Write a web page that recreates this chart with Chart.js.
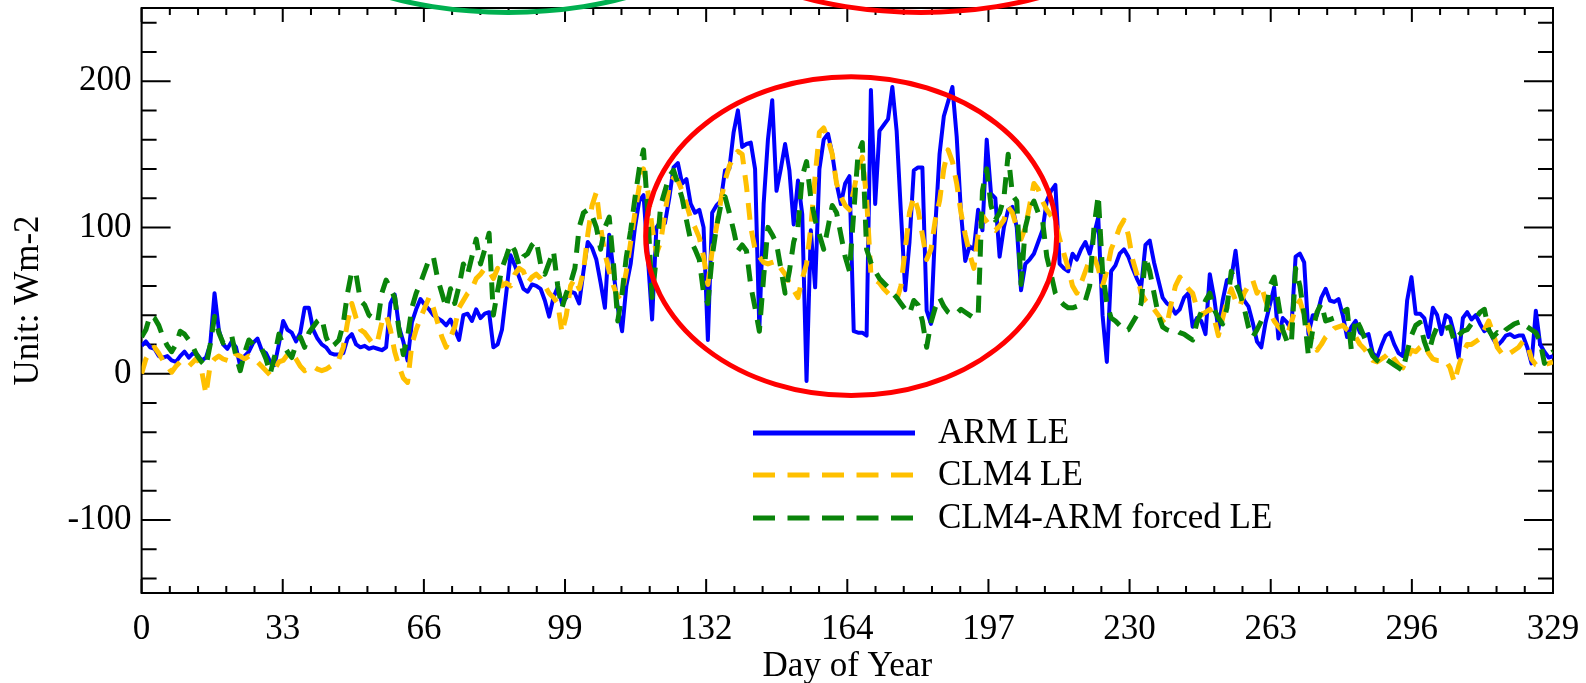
<!DOCTYPE html>
<html>
<head>
<meta charset="utf-8">
<title>Latent heat flux</title>
<script src="https://cdn.jsdelivr.net/npm/chart.js@4.4.1/dist/chart.umd.min.js"></script>
<style>
  html, body { margin: 0; padding: 0; background: #fff; }
  #wrap { width: 1586px; height: 683px; }
</style>
</head>
<body>
<div id="wrap"><canvas id="le-chart" width="1586" height="683"></canvas></div>
<script>
const X_MAX = 329;
const X_TICK_LABELS = ['0', '33', '66', '99', '132', '164', '197', '230', '263', '296', '329'];
const Y_TICKS = [-100, 0, 100, 200];
const SERIES_NAMES = ['ARM LE', 'CLM4 LE', 'CLM4-ARM forced LE'];

// daily LE, Wm-2, day 0..329
const ARM_LE = [
  19, 22, 18, 17, 12, 11, 12, 9, 8, 12,
  15, 11, 14, 13, 9, 11, 20, 55, 30, 20,
  17, 22, 18, 5, 12, 15, 21, 24, 16, 14,
  8, 6, 20, 36, 30, 28, 22, 28, 45, 45,
  30, 24, 20, 18, 14, 13, 13, 14, 24, 27,
  20, 18, 19, 17, 18, 17, 16, 18, 48, 54,
  32, 22, 9, 35, 44, 51, 47, 44, 40, 38,
  36, 33, 37, 30, 23, 40, 41, 36, 44, 38,
  41, 42, 18, 20, 30, 55, 81, 74, 66, 58,
  56, 61, 60, 58, 50, 39, 52, 59, 48, 52,
  56, 55, 48, 70, 90, 86, 78, 62, 45, 95,
  70, 45, 29, 60, 75, 100, 118, 122, 80, 37,
  100, 104, 103, 120, 141, 144, 130, 133, 116, 110,
  112, 100, 23, 110, 115, 118, 139, 140, 165, 180,
  155, 157, 158, 140, 30, 116, 160, 187, 125, 140,
  157, 139, 102, 132, 109, -5, 98, 59, 140, 160,
  164, 150, 130, 116, 130, 135, 29, 28, 28, 26,
  194, 116, 166, 170, 174, 196, 166, 110, 57, 90,
  139, 141, 141, 43, 34, 100, 150, 176, 186, 196,
  162, 110, 77, 87, 85, 112, 98, 160, 123, 120,
  80, 100, 112, 114, 100, 57, 75, 78, 82, 90,
  98, 118, 125, 129, 75, 72, 70, 82, 78, 85,
  90, 82, 95, 107, 40, 8, 70, 74, 82, 85,
  80, 72, 65, 59, 88, 91, 76, 64, 52, 48,
  46, 41, 44, 52, 55, 32, 38, 36, 27, 68,
  52, 30, 50, 64, 65, 84, 58, 50, 46, 35,
  22, 18, 35, 47, 59, 24, 38, 35, 30, 80,
  82, 76, 27, 40, 40, 52, 58, 50, 49, 51,
  40, 25, 32, 36, 28, 26, 27, 14, 11, 19,
  26, 28, 20, 14, 12, 50, 66, 41, 41, 38,
  25, 45, 40, 27, 40, 38, 27, 11, 38, 42,
  37, 40, 34, 29, 31, 24, 19, 22, 26, 27,
  25, 26, 26, 18, 7, 43, 20, 15, 11, 12
];

const CLM4_LE = [
  0, 10, 15, 18, 14, 9, 5, 1, 5, 8,
  7, 5, 8, 11, 2, -14, 6, 10, 12, 10,
  9, 8, 13, 12, 10, 12, 10, 8, 5, 2,
  -1, 3, 8, 9, 13, 14, 10, 5, 2, 4,
  5, 3, 2, 3, 5, 7, 10, 18, 35, 48,
  38, 30, 28, 24, 20, 22, 35, 40, 30, 15,
  5, -3, -6, 20, 30, 38, 45, 52, 45, 35,
  25, 18, 25, 32, 45, 50, 55, 58, 65, 68,
  72, 70, 65, 72, 60, 62, 60, 68, 72, 70,
  62, 66, 68, 65, 60, 55, 52, 48, 28, 40,
  60, 65, 58, 70, 95, 115, 124, 100, 82, 70,
  60, 52, 55, 70, 90, 110, 128, 140, 125, 100,
  82, 90, 110, 128, 134, 132, 125, 116, 106, 100,
  93, 80, 61, 84, 100, 118, 132, 142, 148, 152,
  150, 128, 100, 85, 80, 76, 75, 76, 77, 72,
  68, 62, 57, 52, 65, 75, 100, 135, 165, 168,
  160, 150, 130, 121, 115, 112, 125, 140, 148, 120,
  68, 64, 62, 58, 55, 52, 50, 60, 85, 110,
  121, 112, 95, 78, 85, 105, 118, 140, 153, 145,
  130, 110, 95, 82, 72, 95, 108, 104, 100, 98,
  101, 105, 114, 110, 100, 92, 100, 115, 130, 126,
  118, 112, 108, 104, 92, 82, 72, 60, 55, 62,
  70, 78, 80, 72, 60, 70, 85, 92, 100, 105,
  95, 78, 68, 55, 50, 47, 44, 40, 36, 33,
  48, 60, 66, 62, 58, 55, 45, 40, 42, 44,
  38, 26, 38, 50, 58, 50, 46, 55, 60, 64,
  55, 60, 50, 42, 36, 32, 29, 26, 35, 45,
  50, 40, 32, 22, 16, 20, 25, 28, 31, 32,
  33, 30, 28, 25, 20, 17, 13, 9, 8, 10,
  12, 15, 10, 6, 4, 10, 16, 15, 18, 20,
  14, 10, 9, 9, 9, 4, -6, 5, 14, 20,
  20, 22, 24, 30, 36, 28, 18, 14, 12, 14,
  16, 18, 22, 20, 10, 6, 5, 6, 7, 8
];

const CLM4_ARM_LE = [
  25, 30, 40, 38, 33, 25, 19, 15, 20, 29,
  27, 23, 18, 12, 8, 5, 20, 39, 28, 21,
  24, 26, 12, 2, 14, 23, 20, 17, 17, 10,
  0, 12, 27, 20, 15, 11, 20, 25, 18, 28,
  32, 36, 38, 25, 18, 20, 23, 34, 55, 70,
  68, 50, 47, 40, 38, 35, 55, 64, 58, 52,
  30, 13, 25, 45, 55, 62, 70, 78, 80, 65,
  55, 45, 58, 48, 60, 75, 68, 80, 92, 75,
  85, 96, 40, 57, 72, 80, 89, 84, 74, 80,
  82, 88, 91, 75, 68, 76, 84, 60, 45, 55,
  62, 72, 100, 110, 112, 108, 100, 85, 100, 107,
  75, 36, 55, 80, 98, 120, 140, 153, 110, 52,
  80, 115, 125, 135, 139, 130, 120, 105, 91, 85,
  78, 55, 48, 80, 100, 115, 121, 110, 98, 84,
  88, 84, 60, 45, 29, 66, 100, 95, 89, 72,
  55, 70, 90, 100, 135, 145, 120, 105, 95, 85,
  100, 115, 110, 95, 80, 70, 110, 150, 158, 85,
  76, 70, 65, 62, 59, 55, 52, 48, 44, 41,
  50, 47, 36, 18, 35, 45, 52, 46, 42, 40,
  41, 44, 42, 40, 38, 39, 125, 140, 115, 105,
  110, 120, 150, 122, 118, 61, 100, 112, 118, 110,
  105, 80, 68, 55, 50, 47, 45, 45, 46, 47,
  50, 60, 100, 122, 70, 48, 38, 36, 33, 29,
  30, 35, 40, 48, 80, 70, 55, 40, 32, 30,
  29, 30, 28, 27, 25, 23, 35, 42, 50, 55,
  44, 38, 34, 45, 70, 62, 55, 45, 32, 25,
  30, 36, 39, 60, 66, 48, 30, 22, 20, 72,
  60, 40, 12, 30, 42, 48, 36, 37, 38, 40,
  42, 44, 16, 38, 32, 25, 18, 12, 9, 7,
  10, 8, 6, 4, 2, 15, 26, 33, 35, 22,
  14, 25, 32, 30, 31, 32, 22, 26, 29, 30,
  34, 38, 42, 44, 30, 25, 28, 26, 30, 32,
  34, 35, 36, 32, 30, 28, 22, 7, 13, 15
];

// highlight rings: centre (day, Wm-2) and half axes (days, Wm-2)
const RING_DAY = [85.4, 181.7, 165.4];
const RING_LE = [303, 303, 94];
const RING_HALF_DAYS = [47.8, 47.8, 47.9];
const RING_HALF_LE = [56, 56, 109];

(function () {
  const FONT = "'Liberation Serif', 'Times New Roman', serif";
  const RING_COLORS = ['#00b050', '#ff0000', '#ff0000'];

  const points = arr => arr.map((v, i) => ({ x: i, y: v }));

  // inward ticks on all four sides plus the box
  const frame = {
    id: 'frame',
    beforeDatasetsDraw(chart) {
      const { ctx, chartArea: a, scales: { x, y } } = chart;
      ctx.save();
      ctx.strokeStyle = '#000';
      ctx.lineWidth = 2;
      ctx.strokeRect(a.left, a.top, a.right - a.left, a.bottom - a.top);
      ctx.beginPath();
      for (let v = -140; v <= 240; v += 20) {
        const py = y.getPixelForValue(v);
        const len = v % 100 === 0 ? 29 : 15;
        ctx.moveTo(a.left, py); ctx.lineTo(a.left + len, py);
        ctx.moveTo(a.right, py); ctx.lineTo(a.right - len, py);
      }
      for (let i = 0; i <= 50; i++) {
        const px = x.getPixelForValue(i * X_MAX / 50);
        const len = i % 5 === 0 ? 14 : 7;
        ctx.moveTo(px, a.bottom); ctx.lineTo(px, a.bottom - len);
        ctx.moveTo(px, a.top); ctx.lineTo(px, a.top + len);
      }
      ctx.stroke();
      ctx.restore();
    }
  };

  const rings = {
    id: 'rings',
    afterDatasetsDraw(chart) {
      const { ctx, scales: { x, y } } = chart;
      ctx.save();
      ctx.lineWidth = 5;
      RING_DAY.forEach((d, i) => {
        const cx = x.getPixelForValue(d);
        const cy = y.getPixelForValue(RING_LE[i]);
        const rx = Math.abs(x.getPixelForValue(d + RING_HALF_DAYS[i]) - cx);
        const ry = Math.abs(y.getPixelForValue(RING_LE[i] + RING_HALF_LE[i]) - cy);
        ctx.strokeStyle = RING_COLORS[i];
        ctx.beginPath();
        ctx.ellipse(cx, cy, rx, ry, 0, 0, Math.PI * 2);
        ctx.stroke();
      });
      ctx.restore();
    }
  };

  const legendBox = {
    id: 'legendBox',
    afterDraw(chart) {
      const { ctx } = chart;
      const rows = [433, 475, 518];
      ctx.save();
      ctx.font = '35px ' + FONT;
      ctx.textBaseline = 'middle';
      chart.data.datasets.forEach((ds, i) => {
        ctx.strokeStyle = ds.borderColor;
        ctx.lineWidth = 5;
        ctx.setLineDash(ds.borderDash ? [22, 12.5] : []);
        ctx.beginPath();
        ctx.moveTo(753, rows[i]);
        ctx.lineTo(915, rows[i]);
        ctx.stroke();
        ctx.setLineDash([]);
        ctx.fillStyle = '#000';
        ctx.fillText(ds.label, 938, rows[i] + 1);
      });
      ctx.restore();
    }
  };

  const tickFont = { family: FONT, size: 35 };

  new Chart(document.getElementById('le-chart'), {
    type: 'line',
    data: {
      datasets: [
        { label: SERIES_NAMES[0], data: points(ARM_LE), borderColor: '#0000ff', borderWidth: 4, order: 3 },
        { label: SERIES_NAMES[1], data: points(CLM4_LE), borderColor: '#ffc000', borderWidth: 5, borderDash: [17, 11], order: 2 },
        { label: SERIES_NAMES[2], data: points(CLM4_ARM_LE), borderColor: '#0a840a', borderWidth: 5, borderDash: [17, 11], order: 1 }
      ]
    },
    options: {
      responsive: false,
      animation: false,
      devicePixelRatio: 1,
      layout: { padding: { top: 8, right: 33, left: 0, bottom: 0 } },
      elements: {
        point: { radius: 0 },
        line: { tension: 0, borderJoinStyle: 'round', borderCapStyle: 'butt' }
      },
      plugins: { legend: { display: false }, tooltip: { enabled: false } },
      scales: {
        x: {
          type: 'linear',
          min: 0,
          max: X_MAX,
          afterBuildTicks: s => {
            s.ticks = X_TICK_LABELS.map((t, i) => ({ value: i * X_MAX / (X_TICK_LABELS.length - 1) }));
          },
          afterFit: s => { s.height = 90; s.paddingLeft = 0; s.paddingRight = 0; },
          grid: { display: false, drawTicks: false },
          border: { display: false },
          ticks: {
            autoSkip: false, maxRotation: 0, padding: 16, color: '#000', font: tickFont,
            callback: (v, i) => X_TICK_LABELS[i]
          },
          title: {
            display: true, text: 'Day of Year', color: '#000',
            font: { family: FONT, size: 35, lineHeight: 0.9 }, padding: { top: 0, bottom: 0 }
          }
        },
        y: {
          type: 'linear',
          min: -150,
          max: 250,
          afterBuildTicks: s => { s.ticks = Y_TICKS.map(v => ({ value: v })); },
          afterFit: s => { s.width = 141.6; s.paddingTop = 0; s.paddingBottom = 0; },
          grid: { display: false, drawTicks: false },
          border: { display: false },
          ticks: { padding: 10, color: '#000', font: tickFont },
          title: {
            display: true, text: 'Unit: Wm-2', color: '#000',
            font: { family: FONT, size: 35, lineHeight: 1 }, padding: { top: 11, bottom: 0 }
          }
        }
      }
    },
    plugins: [frame, rings, legendBox]
  });
})();
</script>
</body>
</html>
